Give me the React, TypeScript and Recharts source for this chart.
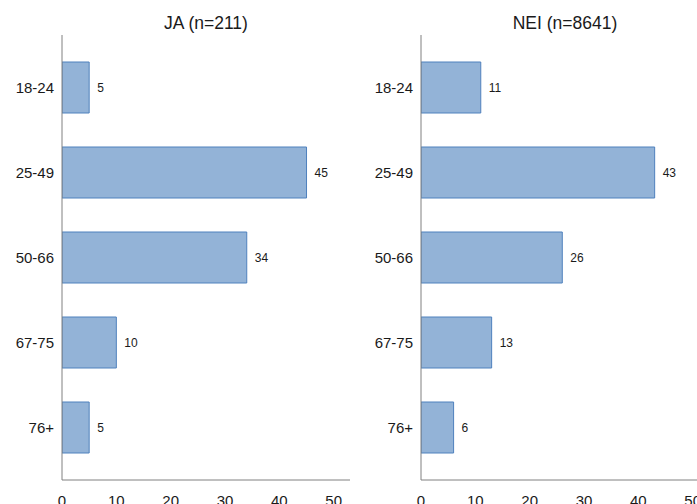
import { BarChart, Bar, XAxis, YAxis, LabelList } from "recharts";

const ageGroups = ["18-24", "25-49", "50-66", "67-75", "76+"];
const jaValues = [5, 45, 34, 10, 5];
const neiValues = [11, 43, 26, 13, 6];
const xTicks = [0, 10, 20, 30, 40, 50];

const FONT = "'Liberation Sans', Arial, sans-serif";
const BAR_FILL = "#93b3d7";
const BAR_STROKE = "#4f81bd";
const AXIS_COLOR = "#808080";

function Panel({
  title,
  values,
  left,
}: {
  title: string;
  values: number[];
  left: number;
}) {
  const data = ageGroups.map((g, i) => ({ group: g, value: values[i] }));
  return (
    <div style={{ position: "absolute", left, top: 0, width: 360, height: 520 }}>
      <div
        style={{
          position: "absolute",
          left: 62,
          width: 288,
          top: 13,
          textAlign: "center",
          fontFamily: FONT,
          fontSize: 17.5,
          color: "#1a1a1a",
        }}
      >
        {title}
      </div>
      <BarChart
        width={360}
        height={520}
        data={data}
        layout="vertical"
        barSize={51}
        margin={{ top: 35, right: 10, bottom: 10, left: 0 }}
        style={{ position: "absolute", left: 0, top: 0 }}
      >
        <XAxis
          type="number"
          domain={[0, 53]}
          ticks={xTicks}
          allowDataOverflow
          tickLine={false}
          tickMargin={9}
          axisLine={{ stroke: AXIS_COLOR }}
          tick={{ fontSize: 15, fill: "#1a1a1a", fontFamily: FONT }}
        />
        <YAxis
          type="category"
          dataKey="group"
          width={62}
          tickLine={false}
          padding={{ top: 10, bottom: 10 }}
          axisLine={{ stroke: AXIS_COLOR }}
          tick={{ fontSize: 15, fill: "#1a1a1a", fontFamily: FONT }}
        />
        <Bar
          dataKey="value"
          fill={BAR_FILL}
          stroke={BAR_STROKE}
          strokeWidth={1}
          isAnimationActive={false}
        >
          <LabelList
            dataKey="value"
            position="right"
            offset={8}
            style={{ fontSize: 12, fill: "#1a1a1a", fontFamily: FONT }}
          />
        </Bar>
      </BarChart>
    </div>
  );
}

export default function App() {
  return (
    <div
      style={{
        position: "fixed",
        left: 0,
        top: 0,
        width: 697,
        height: 504,
        overflow: "hidden",
        background: "#fff",
      }}
    >
      <Panel title="JA (n=211)" values={jaValues} left={0} />
      <Panel title="NEI (n=8641)" values={neiValues} left={359} />
    </div>
  );
}
